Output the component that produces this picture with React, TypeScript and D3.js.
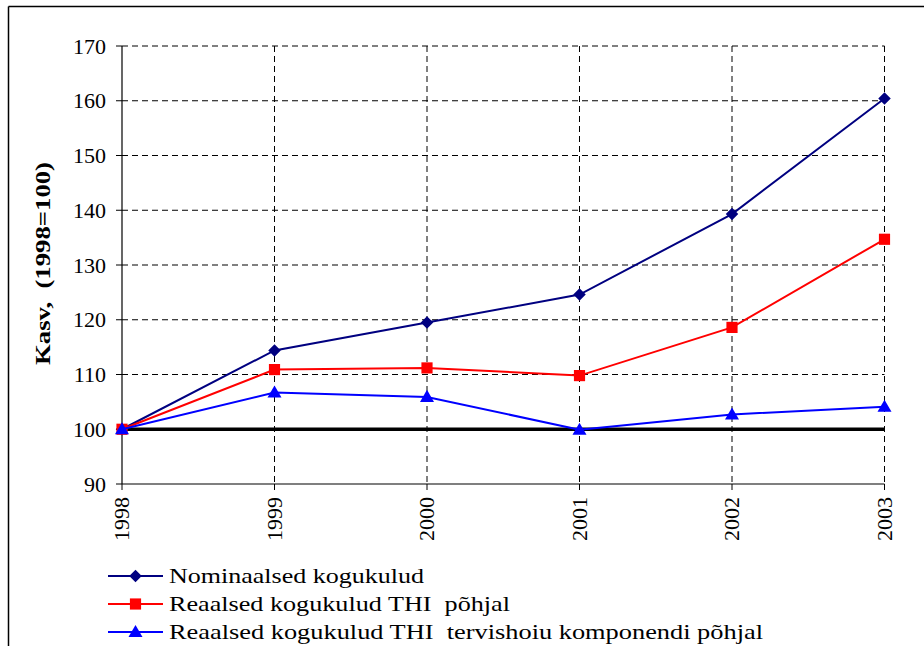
import React from "react";
import * as d3 from "d3";

const years = ["1998", "1999", "2000", "2001", "2002", "2003"];
const nominal = [100, 114.4, 119.5, 124.6, 139.3, 160.4];
const realCpi = [100, 110.9, 111.2, 109.8, 118.6, 134.7];
const realHealth = [100, 106.7, 105.9, 99.9, 102.7, 104.1];
const yTicks = [90, 100, 110, 120, 130, 140, 150, 160, 170];
const seriesNames = [
  "Nominaalsed kogukulud",
  "Reaalsed kogukulud THI  põhjal",
  "Reaalsed kogukulud THI  tervishoiu komponendi põhjal",
];
const yTitle = "Kasv,  (1998=100)";

const W = 924;
const H = 646;
const FONT = "Liberation Serif";
const legendWidths = [255, 341, 594];

export default function App() {
  const x = d3.scalePoint<string>().domain(years).range([122, 884.5]);
  const y = d3.scaleLinear().domain([90, 170]).range([484, 46]);

  const series = [
    { name: seriesNames[0], values: nominal, color: "#000080", marker: "diamond" },
    { name: seriesNames[1], values: realCpi, color: "#FF0000", marker: "square" },
    { name: seriesNames[2], values: realHealth, color: "#0000FF", marker: "triangle" },
  ];

  const line = d3
    .line<number>()
    .x((_, i) => x(years[i]) as number)
    .y((d) => y(d));

  const sym = (m: string) => {
    if (m === "diamond") return d3.symbol().type(d3.symbolDiamond2).size(100)();
    if (m === "square") return d3.symbol().type(d3.symbolSquare).size(125)();
    return d3.symbol().type(d3.symbolTriangle).size(85)();
  };

  const x0 = x(years[0]) as number;
  const x1 = x(years[years.length - 1]) as number;

  return (
    <div style={{ position: "absolute", left: 0, top: 0, width: W, height: H }}>
      <svg width={W} height={H} style={{ display: "block" }}>
        <rect x={0} y={0} width={W} height={H} fill="#fff" />
        {/* frame */}
        <line x1={8.5} y1={6.5} x2={W} y2={6.5} stroke="#000" strokeWidth={1.5} />
        <line x1={8.5} y1={6.5} x2={8.5} y2={H} stroke="#000" strokeWidth={1.5} />

        {/* horizontal grid */}
        {yTicks.slice(1).map((t) => (
          <line key={"hg" + t} x1={x0} x2={x1} y1={y(t)} y2={y(t)} stroke="#000" strokeWidth={1} strokeDasharray="6,4" />
        ))}
        {/* vertical grid */}
        {years.slice(1).map((yr) => (
          <line key={"vg" + yr} x1={x(yr)} x2={x(yr)} y1={y(170)} y2={y(90)} stroke="#000" strokeWidth={1} strokeDasharray="6,4" />
        ))}

        {/* axes */}
        <line x1={x0} x2={x0} y1={y(170)} y2={y(90)} stroke="#000" strokeWidth={1.2} />
        <line x1={x0} x2={x1} y1={y(90)} y2={y(90)} stroke="#000" strokeWidth={1.2} />
        {yTicks.map((t) => (
          <g key={"yt" + t}>
            <line x1={x0 - 6} x2={x0} y1={y(t)} y2={y(t)} stroke="#000" strokeWidth={1} />
            <text x={106} y={y(t)} dy="0.35em" textAnchor="end" fontSize={22} fontFamily={FONT} fill="#000">
              {t}
            </text>
          </g>
        ))}
        {years.map((yr) => (
          <g key={"xt" + yr}>
            <line x1={x(yr)} x2={x(yr)} y1={y(90)} y2={y(90) + 6} stroke="#000" strokeWidth={1} />
            <text
              transform={`translate(${(x(yr) as number) + 7},${y(90) + 13}) rotate(-90)`}
              textAnchor="end"
              fontSize={22}
              fontFamily={FONT}
              fill="#000"
            >
              {yr}
            </text>
          </g>
        ))}

        {/* y title */}
        <text
          transform={`translate(50,${(y(170) + y(90)) / 2 - 1.5}) rotate(-90)`}
          textAnchor="middle"
          fontSize={22}
          fontFamily={FONT}
          fontWeight="bold"
          fill="#000"
          textLength={203}
          lengthAdjust="spacingAndGlyphs"
          style={{ whiteSpace: "pre" }}
        >
          {yTitle}
        </text>

        {/* baseline 100 */}
        <line x1={x0} x2={x1} y1={y(100)} y2={y(100)} stroke="#000" strokeWidth={3.5} />

        {/* series */}
        {series.map((s) => (
          <g key={s.name}>
            <path d={line(s.values) || ""} fill="none" stroke={s.color} strokeWidth={2} />
            {s.values.map((v, i) => (
              <path
                key={i}
                d={sym(s.marker) || ""}
                transform={`translate(${x(years[i])},${y(v) + (s.marker === "triangle" ? 1 : 0)})`}
                fill={s.color}
              />
            ))}
          </g>
        ))}

        {/* legend */}
        {series.map((s, i) => {
          const ly = 576 + i * 28;
          return (
            <g key={"lg" + i}>
              <line x1={108} x2={163} y1={ly} y2={ly} stroke={s.color} strokeWidth={2} />
              <path d={sym(s.marker) || ""} transform={`translate(135.5,${ly + (s.marker === "triangle" ? 1 : 0)})`} fill={s.color} />
              <text
                x={169}
                y={ly}
                dy="0.33em"
                fontSize={22}
                fontFamily={FONT}
                fill="#000"
                textLength={legendWidths[i]}
                lengthAdjust="spacingAndGlyphs"
                style={{ whiteSpace: "pre" }}
              >
                {s.name}
              </text>
            </g>
          );
        })}
      </svg>
    </div>
  );
}
